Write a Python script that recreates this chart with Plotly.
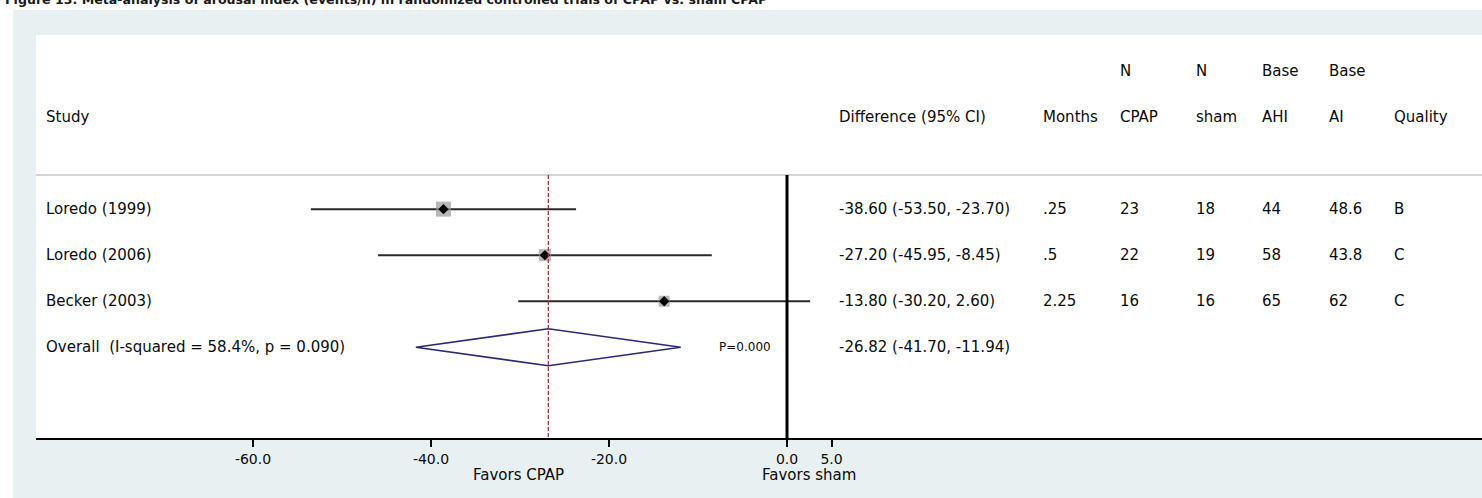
import plotly.graph_objects as go

# ---------------- data ----------------
studies = ["Loredo (1999)", "Loredo (2006)", "Becker (2003)"]
diff = [-38.60, -27.20, -13.80]
ci_lo = [-53.50, -45.95, -30.20]
ci_hi = [-23.70, -8.45, 2.60]
months = [".25", ".5", "2.25"]
n_cpap = ["23", "22", "16"]
n_sham = ["18", "19", "16"]
base_ahi = ["44", "58", "65"]
base_ai = ["48.6", "43.8", "62"]
quality = ["B", "C", "C"]

overall_label = "Overall  (I-squared = 58.4%, p = 0.090)"
overall_est = -26.82
overall_lo = -41.70
overall_hi = -11.94
overall_p_text = "P=0.000"

tick_vals = [-60, -40, -20, 0, 5]
tick_text = ["-60.0", "-40.0", "-20.0", "0.0", "5.0"]

header_top = ["", "", "N", "N", "Base", "Base", ""]
header_bottom = ["Difference (95% CI)", "Months", "CPAP", "sham", "AHI", "AI", "Quality"]
title_text = "Figure 13. Meta-analysis of arousal index (events/h) in randomized controlled trials of CPAP vs. sham CPAP"

# ---------------- geometry / style ----------------
W, H = 1482, 498
PL, PT, PB = 36, 35, 437.7          # plot area left, top, bottom (px)
PW, PH = W - PL, PB - PT
X0PX, XPU = 787.0, 8.9              # pixel of value 0, pixels per unit
ROW0, ROWPX = 163.0, 46.0           # row r at pixel ROW0 + ROWPX*r

xr = [(PL - X0PX) / XPU, (W - X0PX) / XPU]
yr = [(PB - ROW0) / ROWPX, (PT - ROW0) / ROWPX]   # reversed


def px_x(px):
    return (px - PL) / PW


def px_y(py):
    return (PB - py) / PH


def row_of(py):
    return (py - ROW0) / ROWPX


FONT = "DejaVu Sans"
TXT = "#0a0a0a"
FS = 15
BOX_PX = [15, 12, 11]
col_px = [837, 1041, 1118, 1194, 1260, 1327, 1392]

rows = [1, 2, 3]
overall_row = 4
line_top = row_of(175)

fig = go.Figure()

# CI lines
cx, cy = [], []
for lo, hi, r in zip(ci_lo, ci_hi, rows):
    cx += [lo, hi, None]
    cy += [r, r, None]
fig.add_trace(go.Scatter(x=cx, y=cy, mode="lines",
                         line=dict(color="#2a2a2a", width=2), hoverinfo="skip"))
# weight boxes
fig.add_trace(go.Scatter(x=diff, y=rows, mode="markers",
                         marker=dict(symbol="square", size=BOX_PX, color="#9a9a9a",
                                     line=dict(width=0)), hoverinfo="skip"))
# point estimates
fig.add_trace(go.Scatter(x=diff, y=rows, mode="markers",
                         marker=dict(symbol="diamond", size=8, color="#000000"),
                         hoverinfo="skip"))
# overall diamond
hh = 18.5 / ROWPX
fig.add_trace(go.Scatter(
    x=[overall_lo, overall_est, overall_hi, overall_est, overall_lo],
    y=[overall_row, overall_row - hh, overall_row, overall_row + hh, overall_row],
    mode="lines", line=dict(color="#2a2a72", width=1.6), hoverinfo="skip"))

shapes = []
# white strips at top and left (rest of the paper is the grey-blue background)
shapes.append(dict(type="rect", xref="paper", yref="paper", layer="below",
                   x0=px_x(0), x1=px_x(W), y0=px_y(10), y1=px_y(0),
                   fillcolor="white", line=dict(width=0)))
shapes.append(dict(type="rect", xref="paper", yref="paper", layer="below",
                   x0=px_x(0), x1=px_x(13), y0=px_y(H), y1=px_y(0),
                   fillcolor="white", line=dict(width=0)))
# header separator
shapes.append(dict(type="line", xref="paper", yref="y", x0=0, x1=1,
                   y0=line_top, y1=line_top, line=dict(color="#c4c4c4", width=1.5)))
# zero line
shapes.append(dict(type="line", xref="x", yref="y", x0=0, x1=0,
                   y0=line_top, y1=yr[0], line=dict(color="#000000", width=3)))
# overall dashed line
shapes.append(dict(type="line", xref="x", yref="y", x0=overall_est, x1=overall_est,
                   y0=line_top, y1=yr[0],
                   line=dict(color="#a83838", width=1.3, dash="4px,2px")))

ann = []


def txt(xpx, row, s, size=FS, anchor="left"):
    ann.append(dict(xref="paper", yref="y", x=px_x(xpx), y=row, text=s,
                    showarrow=False, xanchor=anchor, yanchor="middle",
                    font=dict(family=FONT, size=size, color=TXT)))


# header
txt(44, -1, "Study")
for cpx, t1, t2 in zip(col_px, header_top, header_bottom):
    if t1:
        txt(cpx, -2, t1)
    txt(cpx, -1, t2)

# study rows
for i, r in enumerate(rows):
    txt(44, r, studies[i])
    txt(col_px[0], r, f"{diff[i]:.2f} ({ci_lo[i]:.2f}, {ci_hi[i]:.2f})")
    txt(col_px[1], r, months[i])
    txt(col_px[2], r, n_cpap[i])
    txt(col_px[3], r, n_sham[i])
    txt(col_px[4], r, base_ahi[i])
    txt(col_px[5], r, base_ai[i])
    txt(col_px[6], r, quality[i])

# overall row
txt(44, overall_row, overall_label)
txt(col_px[0], overall_row, f"{overall_est:.2f} ({overall_lo:.2f}, {overall_hi:.2f})")
ann.append(dict(xref="x", yref="y", x=(745 - X0PX) / XPU, y=overall_row,
                text=overall_p_text, showarrow=False, xanchor="center", yanchor="middle",
                font=dict(family=FONT, size=12, color=TXT)))

# favors labels
for s, xpx in [("Favors CPAP", 518), ("Favors sham", 809)]:
    ann.append(dict(xref="paper", yref="paper", x=px_x(xpx), y=px_y(475), text=s,
                    showarrow=False, xanchor="center", yanchor="middle",
                    font=dict(family=FONT, size=15, color=TXT)))

# cut-off title at the very top
ann.append(dict(xref="paper", yref="paper", x=px_x(3), y=px_y(9), text="<b>" + title_text + "</b>",
                showarrow=False, xanchor="left", yanchor="bottom",
                font=dict(family=FONT, size=12.6, color="#1a1a1a")))

fig.update_layout(
    width=W, height=H,
    margin=dict(l=PL, r=0, t=PT, b=H - PB, pad=0),
    paper_bgcolor="#e9f0f2",
    plot_bgcolor="#ffffff",
    showlegend=False,
    shapes=shapes,
    annotations=ann,
    xaxis=dict(range=xr, showgrid=False, zeroline=False, showline=True,
               linecolor="#000000", linewidth=2, ticks="outside", ticklen=7,
               tickwidth=2, tickcolor="#000000", tickvals=tick_vals, ticktext=tick_text,
               tickfont=dict(family=FONT, size=14, color=TXT), fixedrange=True),
    yaxis=dict(range=yr, showgrid=False, zeroline=False, showline=False,
               showticklabels=False, ticks="", fixedrange=True),
)

fig.write_html("out.html")
